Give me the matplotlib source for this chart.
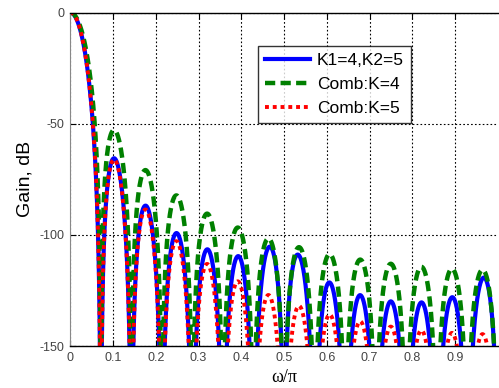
import numpy as np
import matplotlib
matplotlib.use("Agg")
import matplotlib.pyplot as plt

# filter parameters (two-stage comb vs single-stage comb, total decimation 28)
M1 = 4          # first stage length
M2 = 7          # second stage length
K1 = 4          # first stage order
K2 = 5          # second stage order
comb_orders = [4, 5]

labels = ["K1=4,K2=5", "Comb:K=4", "Comb:K=5"]
colors = ["#0000ff", "#008000", "#ff0000"]

xticks = [0, 0.1, 0.2, 0.3, 0.4, 0.5, 0.6, 0.7, 0.8, 0.9]
xticklabels = ["0", "0.1", "0.2", "0.3", "0.4", "0.5", "0.6", "0.7", "0.8", "0.9"]
yticks = [0, -50, -100, -150]
yticklabels = ["0", "-50", "-100", "-150"]


def dirichlet(w, M):
    # |sin(M w/2) / (M sin(w/2))|, safe at w = 0
    num = np.sin(M * w / 2)
    den = M * np.sin(w / 2)
    out = np.ones_like(w)
    nz = np.abs(den) > 1e-12
    out[nz] = num[nz] / den[nz]
    return np.abs(out)


f = np.linspace(0, 1, 6001)
w = np.pi * f
eps = 1e-20

g_two = 20 * np.log10(dirichlet(w, M1) ** K1 * dirichlet(M1 * w, M2) ** K2 + eps)
g_comb = [20 * np.log10(dirichlet(w, M1 * M2) ** k + eps) for k in comb_orders]

fig = plt.figure(figsize=(4.99, 3.88), dpi=100)
ax = fig.add_axes([70.3 / 499, 1 - 346 / 388, (497.8 - 70.3) / 499, (346 - 12.5) / 388])

ax.plot(f, g_two, color=colors[0], lw=3, label=labels[0])
ax.plot(f, g_comb[0], color=colors[1], lw=3.2, dashes=[2.3, 1.2], label=labels[1])
ax.plot(f, g_comb[1], color=colors[2], lw=2.8, dashes=[1.0, 1.0], label=labels[2],
        dash_capstyle="butt")

ax.set_xlim(0, 1)
ax.set_ylim(-150, 0)
ax.set_xticks(xticks)
ax.set_xticklabels(xticklabels)
ax.set_yticks(yticks)
ax.set_yticklabels(yticklabels)

ax.grid(True, color="black", lw=0.8, linestyle=(0, (1.5, 2)))
ax.tick_params(direction="in", length=4, width=0.8, labelsize=9,
               labelcolor="#444444", top=True, pad=4)

ax.spines["left"].set_color("#888888")
ax.spines["right"].set_visible(False)
for s in ["top", "bottom"]:
    ax.spines[s].set_linewidth(1.0)

for t in ax.get_xticklabels() + ax.get_yticklabels():
    t.set_family(["Liberation Sans", "DejaVu Sans"])

ax.set_ylabel("Gain, dB", fontsize=14, family=["Liberation Sans", "DejaVu Sans"])
ax.yaxis.set_label_coords((34 - 70.3) / 427.5, 0.5)
ax.set_xlabel("ω/π", fontsize=13, family=["Liberation Serif", "DejaVu Serif"], labelpad=4)

leg = ax.legend(loc="upper left", bbox_to_anchor=((258 - 70.3) / 427.5, 1 - (46 - 12.5) / 333.5),
                prop={"family": ["Liberation Sans", "DejaVu Sans"], "size": 12.5},
                frameon=True, fancybox=False, borderpad=0.4, labelspacing=0.5,
                handlelength=2.6, handletextpad=0.4, borderaxespad=0)
leg.get_frame().set_edgecolor("black")
leg.get_frame().set_linewidth(1.0)

fig.savefig("out.png", dpi=100)
